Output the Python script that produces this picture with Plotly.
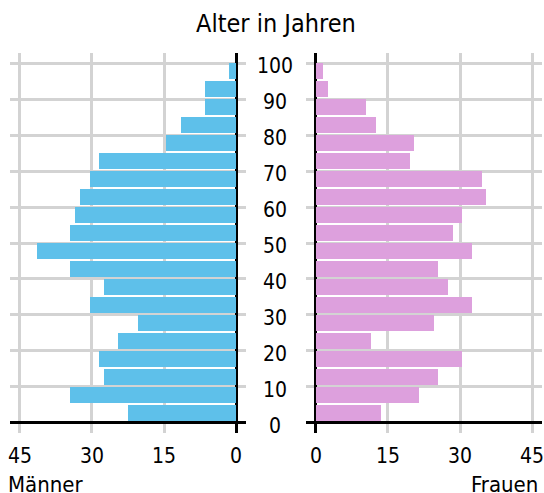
import plotly.graph_objects as go
from plotly.subplots import make_subplots

age_start = [95, 90, 85, 80, 75, 70, 65, 60, 55, 50, 45, 40, 35, 30, 25, 20, 15, 10, 5, 0]
maenner = [1.5, 6.5, 6.5, 11.5, 14.5, 28.5, 30.5, 32.5, 33.5, 34.5, 41.5, 34.5, 27.5, 30.5, 20.5, 24.5, 28.5, 27.5, 34.5, 22.5]
frauen = [1.5, 2.5, 10.5, 12.5, 20.5, 19.5, 34.5, 35.5, 30.5, 28.5, 32.5, 25.5, 27.5, 32.5, 24.5, 11.5, 30.5, 25.5, 21.5, 13.5]
x_ticks = [0, 15, 30, 45]
y_ticks = [0, 10, 20, 30, 40, 50, 60, 70, 80, 90, 100]

FONT = "DejaVu Sans Condensed, DejaVu Sans, sans-serif"
GRID = "#d3d3d3"

fig = make_subplots(rows=1, cols=2, shared_yaxes=False, horizontal_spacing=0.1128)

fig.add_trace(go.Bar(y=age_start, x=maenner, orientation="h", width=4.45, offset=0.55,
                     marker=dict(color="#5ec0ea", line=dict(width=0)), showlegend=False), row=1, col=1)
fig.add_trace(go.Bar(y=age_start, x=frauen, orientation="h", width=4.45, offset=0.55,
                     marker=dict(color="#dda0dd", line=dict(width=0)), showlegend=False), row=1, col=2)

xcommon = dict(tickvals=x_ticks, showgrid=True, gridcolor=GRID, gridwidth=2.5,
               zeroline=True, zerolinecolor="black", zerolinewidth=3, showline=False,
               tickfont=dict(family=FONT, size=21, color="black"), ticks="outside",
               ticklen=4, tickcolor="rgba(0,0,0,0)", fixedrange=True, automargin=False,
               ticklabeloverflow="allow")
fig.update_xaxes(range=[47.08, -2.08], domain=[0, 0.4436], **xcommon, row=1, col=1)
fig.update_xaxes(range=[-2.08, 47.08], domain=[0.5564, 1], **xcommon, row=1, col=2)

ycommon = dict(range=[-2.8, 102.8], tickvals=y_ticks, showticklabels=False, showgrid=True,
               gridcolor=GRID, gridwidth=2.5, zeroline=True, zerolinecolor="black",
               zerolinewidth=3, showline=False, automargin=False, fixedrange=True)
fig.update_yaxes(**ycommon, row=1, col=1)
fig.update_yaxes(**ycommon, row=1, col=2)

annotations = []
for t in y_ticks:
    annotations.append(dict(x=0.5, xref="paper", y=t, yref="y", text=str(t), showarrow=False,
                            xanchor="center", yanchor="middle", xshift=-1, yshift=-3,
                            font=dict(family=FONT, size=21, color="black")))
annotations.append(dict(x=0, xref="paper", y=0, yref="paper", text="Männer", showarrow=False,
                        xanchor="left", yanchor="top", xshift=-4, yshift=-37,
                        font=dict(family=FONT, size=22, color="black")))
annotations.append(dict(x=1, xref="paper", y=0, yref="paper", text="Frauen", showarrow=False,
                        xanchor="right", yanchor="top", xshift=-2, yshift=-37,
                        font=dict(family=FONT, size=22, color="black")))
annotations.append(dict(x=0.5, xref="paper", y=1, yref="paper", text="Alter in Jahren", showarrow=False,
                        xanchor="center", yanchor="bottom", yshift=13,
                        font=dict(family=FONT, size=25, color="black")))

fig.update_layout(width=544, height=493, margin=dict(l=10, r=2, t=53, b=60),
                  plot_bgcolor="white", paper_bgcolor="white", bargap=0,
                  annotations=annotations, font=dict(family=FONT))

fig.write_html("out.html", config={"displayModeBar": False},
               post_script="document.body.style.margin='0';document.body.style.overflow='hidden';")
